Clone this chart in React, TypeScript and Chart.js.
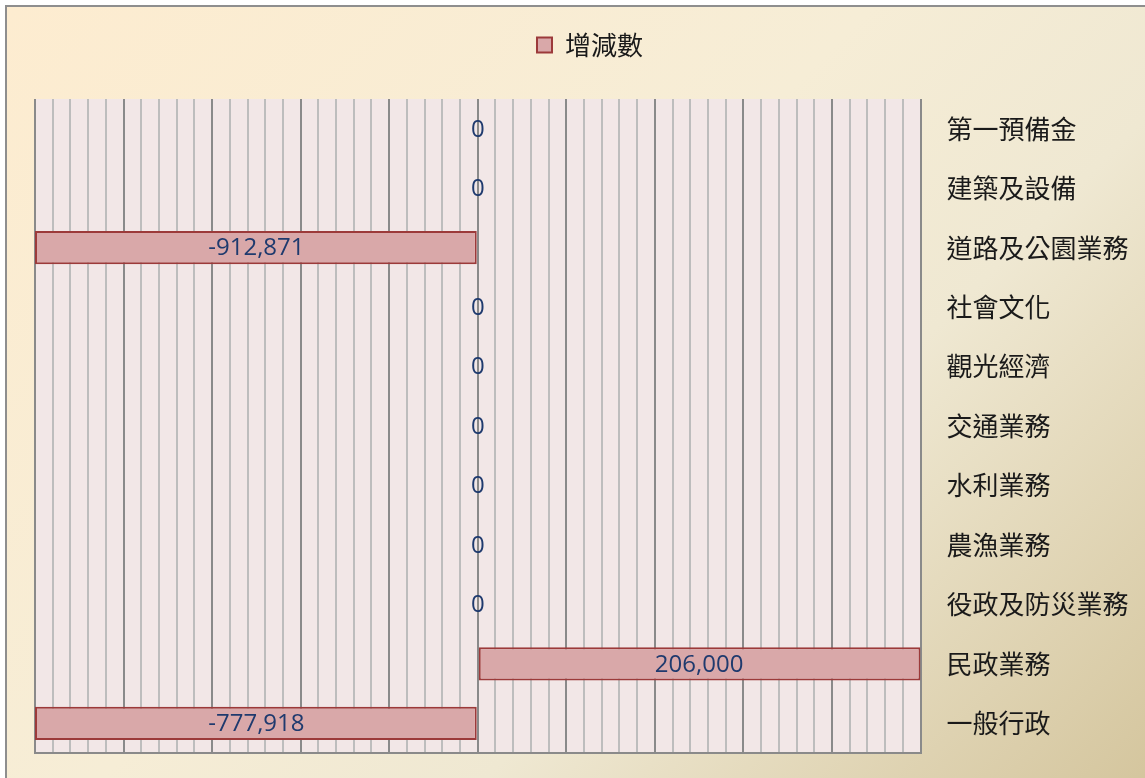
import React, { useEffect, useRef } from "react";
import { Chart, registerables } from "chart.js";

Chart.register(...registerables);

const categories = [
  "第一預備金",
  "建築及設備",
  "道路及公園業務",
  "社會文化",
  "觀光經濟",
  "交通業務",
  "水利業務",
  "農漁業務",
  "役政及防災業務",
  "民政業務",
  "一般行政",
];
const seriesName = "增減數";
const changeValues = [0, 0, -912871, 0, 0, 0, 0, 0, 0, 206000, -777918];

const AXIS_MIN = -200000;
const AXIS_MAX = 200000;
const MAJOR_STEP = 40000;
const MINOR_STEP = 8000;

const fmt = (v: number) => {
  const s = Math.abs(v).toString().replace(/\B(?=(\d{3})+(?!\d))/g, ",");
  return (v < 0 ? "-" : "") + s;
};

const labelPlugin = {
  id: "barLabels",
  afterDatasetsDraw(chart: any) {
    const { ctx, chartArea } = chart;
    const meta = chart.getDatasetMeta(0);
    const xs = chart.scales.x;
    const zeroX = xs.getPixelForValue(0);
    ctx.save();
    ctx.font = '24px "Open Sans", "Noto Sans", sans-serif';
    ctx.fillStyle = "#1f3a6e";
    ctx.textAlign = "center";
    ctx.textBaseline = "middle";
    meta.data.forEach((bar: any, i: number) => {
      const v = changeValues[i];
      let endX = xs.getPixelForValue(v);
      endX = Math.max(chartArea.left, Math.min(chartArea.right, endX));
      const cx = (zeroX + endX) / 2;
      ctx.fillText(fmt(v), cx, bar.y + 1);
    });
    ctx.restore();
  },
};

const legendSpacer = {
  id: "legendSpacer",
  afterInit(chart: any) {
    const legend = chart.legend;
    if (!legend) return;
    const orig = legend.fit;
    legend.fit = function () {
      orig.call(this);
      this.height += 31;
    };
  },
};

export default function App() {
  const ref = useRef<HTMLCanvasElement | null>(null);

  useEffect(() => {
    document.body.style.margin = "0";
    document.body.style.overflow = "hidden";
    if (!ref.current) return;
    const chart = new Chart(ref.current, {
      type: "bar",
      data: {
        labels: categories,
        datasets: [
          {
            label: seriesName,
            data: changeValues.map((v) => Math.max(AXIS_MIN, Math.min(AXIS_MAX, v))),
            backgroundColor: "#d9a8a9",
            borderColor: "#9c3a3a",
            borderWidth: 2,
            borderSkipped: false,
            barPercentage: 0.56,
            categoryPercentage: 1,
          },
        ],
      },
      options: {
        indexAxis: "y",
        animation: false,
        responsive: false,
        maintainAspectRatio: false,
        layout: { padding: { left: 35, right: 0, top: 2, bottom: 25 } },
        plugins: {
          legend: {
            display: true,
            position: "top",
            labels: {
              boxWidth: 15,
              boxHeight: 15,
              padding: 30,
              color: "#1a1a1a",
              font: { size: 26, family: '"Noto Sans CJK TC", sans-serif' },
            },
          },
          tooltip: { enabled: false },
        },
        scales: {
          x: {
            type: "linear",
            min: AXIS_MIN,
            max: AXIS_MAX,
            ticks: {
              display: false,
              stepSize: MINOR_STEP,
              maxTicksLimit: 100,
              autoSkip: false,
            },
            grid: {
              drawTicks: false,
              color: (c: any) =>
                c.tick && Math.round(c.tick.value) % MAJOR_STEP === 0 ? "#8a8a8a" : "#bdbdbd",
              lineWidth: 2,
            },
            border: { display: true, color: "#8a8a8a", width: 2 },
          },
          y: {
            position: "right",
            afterFit: (scale: any) => {
              scale.width = 224.5;
              scale.paddingTop = 0;
              scale.paddingBottom = 0;
            },
            ticks: {
              padding: 26,
              crossAlign: "near",
              color: "#1a1a1a",
              font: { size: 26, family: '"Noto Sans CJK TC", sans-serif' },
            },
            grid: { display: false, drawTicks: false },
            border: { display: false },
          },
        },
      },
      plugins: [
        {
          id: "plotBg",
          beforeDraw(chart: any) {
            const { ctx, chartArea } = chart;
            ctx.save();
            ctx.fillStyle = "#f2e7e7";
            ctx.fillRect(
              chartArea.left,
              chartArea.top,
              chartArea.right - chartArea.left,
              chartArea.bottom - chartArea.top
            );
            ctx.restore();
          },
        },
        legendSpacer,
        labelPlugin,
      ],
    });
    return () => chart.destroy();
  }, []);

  return (
    <div style={{ position: "relative", width: 1145, height: 778, overflow: "hidden" }}>
      <div
        style={{
          position: "absolute",
          left: 5,
          top: 5,
          width: 1145,
          height: 778,
          borderLeft: "2px solid #8e8e8e",
          borderTop: "2px solid #8e8e8e",
          background: "linear-gradient(135deg, #fdecd0 0%, #f6edd6 45%, #efe8d2 65%, #d4c59d 100%)",
        }}
      />
      <canvas
        ref={ref}
        width={1145}
        height={778}
        style={{ position: "absolute", left: 0, top: 0, width: 1145, height: 778 }}
      />
    </div>
  );
}
